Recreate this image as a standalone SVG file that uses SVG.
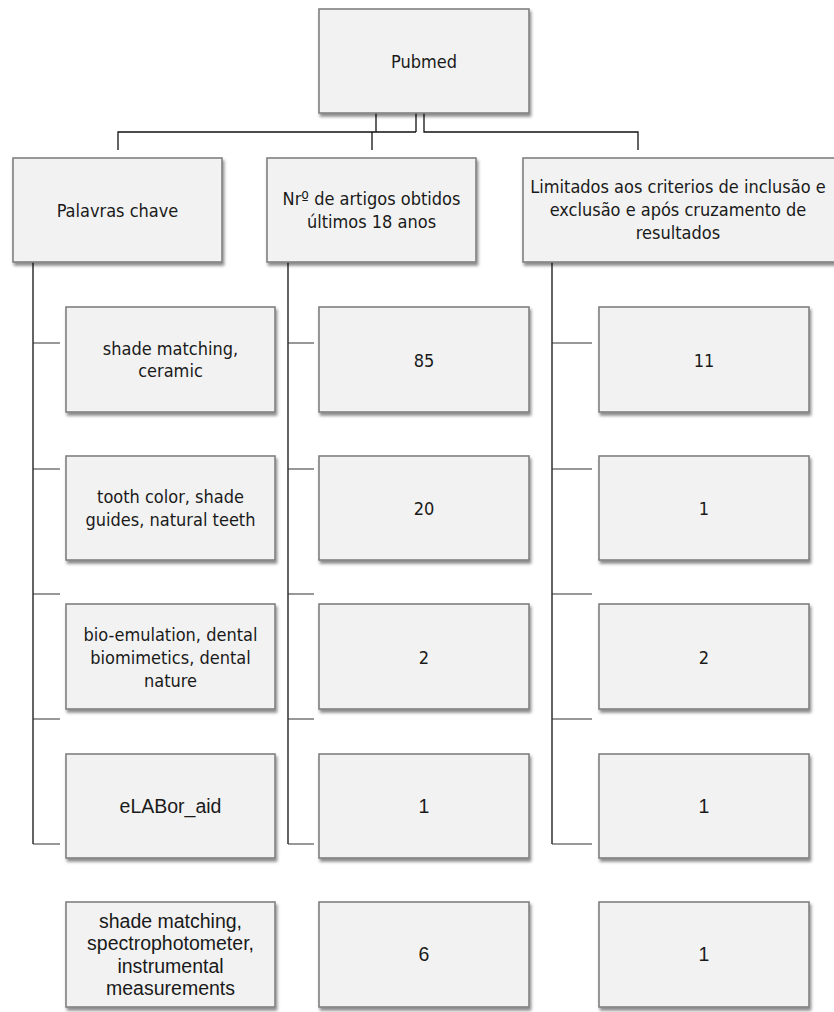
<svg xmlns="http://www.w3.org/2000/svg" width="834" height="1012" viewBox="0 0 834 1012">
<defs>
<filter id="sh" x="-10%" y="-10%" width="125%" height="130%">
<feDropShadow dx="1.5" dy="3" stdDeviation="1.4" flood-color="#000" flood-opacity="0.45"/>
</filter>
<style>
.box{fill:#f2f2f2;stroke:#808080;stroke-width:1.6;filter:url(#sh)}
.t{font-family:"DejaVu Sans Condensed","DejaVu Sans","Liberation Sans",sans-serif;font-stretch:condensed;font-size:18px;fill:#1a1a1a;text-anchor:middle}
.c{font-family:"Liberation Sans",Arial,sans-serif;font-size:19.5px;fill:#1a1a1a;text-anchor:middle}
.ln{fill:none;stroke:#111;stroke-width:1.3}
.tk{fill:none;stroke:#333;stroke-width:1.2}
</style>
</defs>
<rect width="834" height="1012" fill="#fff"/>
<g id="connectors">
<path class="ln" d="M376,113V132M416,113V132M118,150V132H416M372,132V150M424,113V132H638V150"/>
<path class="ln" d="M33,262V844M288,262V844M552,262V844"/>
<path class="tk" d="M33,343H60M33,469H60M33,594H60M33,719H60M33,844H60"/>
<path class="tk" d="M288,343H314M288,469H314M288,594H314M288,719H314M288,844H314"/>
<path class="tk" d="M552,343H592M552,469H592M552,594H592M552,719H592M552,844H592"/>
</g>
<g id="pubmed"><rect class="box" x="319" y="9" width="210" height="104"/><text class="t" x="424" y="68">Pubmed</text></g>
<g id="palavras"><rect class="box" x="13" y="158" width="209" height="104"/><text class="t" x="117.5" y="217">Palavras chave</text></g>
<g id="nr"><rect class="box" x="267" y="158" width="209" height="104"/><text class="t" x="371.5" y="205">Nrº de artigos obtidos</text><text class="t" x="371.5" y="228">últimos 18 anos</text></g>
<g id="limitados"><rect class="box" x="523" y="158" width="314" height="104"/><text class="t" x="678" y="193">Limitados aos criterios de inclusão e</text><text class="t" x="678" y="216">exclusão e após cruzamento de</text><text class="t" x="678" y="239">resultados</text></g>

<g id="k1"><rect class="box" x="66" y="307" width="209" height="105"/><text class="t" x="170.5" y="355">shade matching,</text><text class="t" x="170.5" y="377">ceramic</text></g>
<g id="k2"><rect class="box" x="66" y="456" width="209" height="104"/><text class="t" x="170.5" y="503">tooth color, shade</text><text class="t" x="170.5" y="526">guides, natural teeth</text></g>
<g id="k3"><rect class="box" x="66" y="604" width="209" height="105"/><text class="t" x="170.5" y="641">bio-emulation, dental</text><text class="t" x="170.5" y="664">biomimetics, dental</text><text class="t" x="170.5" y="687">nature</text></g>
<g id="k4"><rect class="box" x="66" y="754" width="209" height="104"/><text class="c" x="170.5" y="813">eLABor_aid</text></g>
<g id="k5"><rect class="box" x="66" y="902" width="209" height="105"/><text class="c" x="170.5" y="928">shade matching,</text><text class="c" x="170.5" y="950.3">spectrophotometer,</text><text class="c" x="170.5" y="972.6">instrumental</text><text class="c" x="170.5" y="995">measurements</text></g>

<g id="n1"><rect class="box" x="319" y="307" width="210" height="105"/><text class="t" x="424" y="367">85</text></g>
<g id="n2"><rect class="box" x="319" y="456" width="210" height="104"/><text class="t" x="424" y="515">20</text></g>
<g id="n3"><rect class="box" x="319" y="604" width="210" height="105"/><text class="t" x="424" y="664">2</text></g>
<g id="n4"><rect class="box" x="319" y="754" width="210" height="104"/><text class="c" x="424" y="813">1</text></g>
<g id="n5"><rect class="box" x="319" y="902" width="210" height="105"/><text class="c" x="424" y="961">6</text></g>

<g id="r1"><rect class="box" x="599" y="307" width="210" height="105"/><text class="t" x="704" y="367">11</text></g>
<g id="r2"><rect class="box" x="599" y="456" width="210" height="104"/><text class="t" x="704" y="515">1</text></g>
<g id="r3"><rect class="box" x="599" y="604" width="210" height="105"/><text class="t" x="704" y="664">2</text></g>
<g id="r4"><rect class="box" x="599" y="754" width="210" height="104"/><text class="c" x="704" y="813">1</text></g>
<g id="r5"><rect class="box" x="599" y="902" width="210" height="105"/><text class="c" x="704" y="961">1</text></g>
</svg>
